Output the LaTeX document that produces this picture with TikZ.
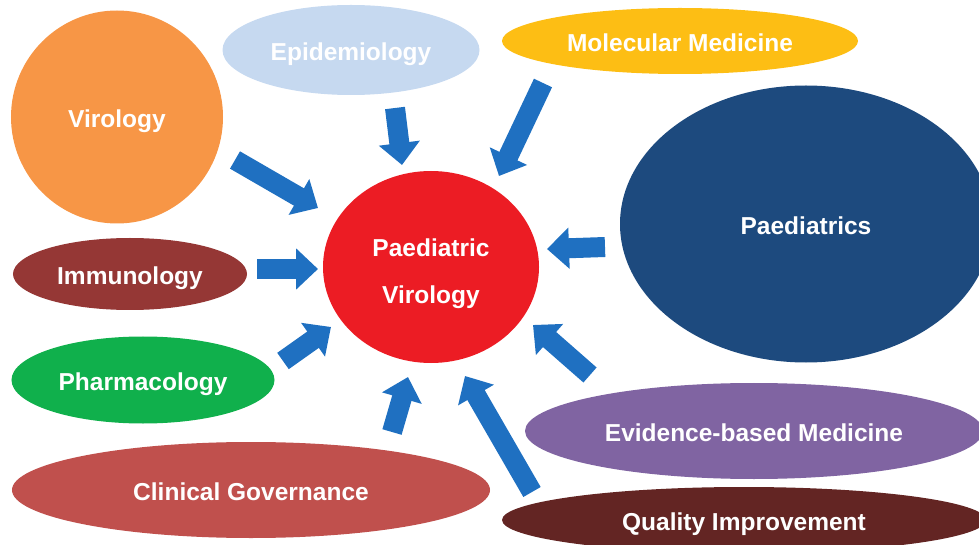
\documentclass[tikz,border=0pt]{standalone}
\usepackage{fontspec}
\setmainfont{Liberation Sans}
\usetikzlibrary{shapes.geometric,arrows.meta}
\definecolor{cvir}{HTML}{F79646}
\definecolor{cepi}{HTML}{C6D9F0}
\definecolor{cmol}{HTML}{FDBE14}
\definecolor{cpaed}{HTML}{1D4A7E}
\definecolor{cpv}{HTML}{EC1C24}
\definecolor{cimm}{HTML}{953735}
\definecolor{cpha}{HTML}{10B04C}
\definecolor{ccg}{HTML}{C0504D}
\definecolor{cebm}{HTML}{8064A2}
\definecolor{cqi}{HTML}{632523}
\definecolor{arrowblue}{HTML}{1F70C1}
\begin{document}
\begin{tikzpicture}[x=1bp,y=-1bp,
  blob/.style={ellipse, inner sep=0pt, text=white, align=center,
    text height=21bp, text depth=0bp,
    font=\fontsize{24.5bp}{47bp}\selectfont\bfseries},
  pvtext/.style={inner sep=0pt, text=white, align=center,
    font=\fontsize{24.5bp}{47bp}\selectfont\bfseries},
  bigarrow/.style={draw=arrowblue, line width=20bp,
    -{Triangle[length=22bp,width=40bp]}}]
\useasboundingbox (0,0) rectangle (979,545);
\clip (0,0) rectangle (979,545);
% shapes
\node[blob, fill=cvir,  minimum width=212bp, minimum height=213bp] (vir)  at (117,117) {Virology};
\node[blob, fill=cepi,  minimum width=257bp, minimum height=90bp]  (epi)  at (351,50)  {Epidemiology};
\node[blob, fill=cmol,  minimum width=356bp, minimum height=66bp]  (mol)  at (680,41)  {Molecular Medicine};
\node[blob, fill=cpaed, minimum width=372bp, minimum height=277bp] (paed) at (806,224) {Paediatrics};
\node[blob, fill=cpv,   minimum width=216bp, minimum height=192bp] (pv)   at (431,267) {};
\node[pvtext] (pvt) at (431,274) {Paediatric\\Virology};
\node[blob, fill=cimm,  minimum width=234bp, minimum height=72bp]  (imm)  at (130,274) {Immunology};
\node[blob, fill=cpha,  minimum width=263bp, minimum height=87bp]  (pha)  at (143,380) {Pharmacology};
\node[blob, fill=ccg,   minimum width=478bp, minimum height=96bp]  (cg)   at (251,490) {Clinical Governance};
\node[blob, fill=cebm,  minimum width=458bp, minimum height=96bp]  (ebm)  at (754,431) {Evidence-based Medicine};
\node[blob, fill=cqi,   minimum width=484bp, minimum height=66bp]  (qi)   at (744,520) {Quality Improvement};
% arrow end points
\coordinate (a1s) at (235,160); \coordinate (a1e) at (318,208);
\coordinate (a2s) at (395,108); \coordinate (a2e) at (402,165);
\coordinate (a3s) at (543,83);  \coordinate (a3e) at (499,176);
\coordinate (a4s) at (605,247); \coordinate (a4e) at (547,249);
\coordinate (a5s) at (257,269); \coordinate (a5e) at (318,269);
\coordinate (a6s) at (283,361); \coordinate (a6e) at (331,327);
\coordinate (a7s) at (392,432); \coordinate (a7e) at (408,377);
\coordinate (a8s) at (532,492); \coordinate (a8e) at (465,376);
\coordinate (a9s) at (590,375); \coordinate (a9e) at (533,325);
% arrows
\foreach \i in {1,...,9} {\draw[bigarrow] (a\i s) -- (a\i e);}
\end{tikzpicture}
\end{document}
